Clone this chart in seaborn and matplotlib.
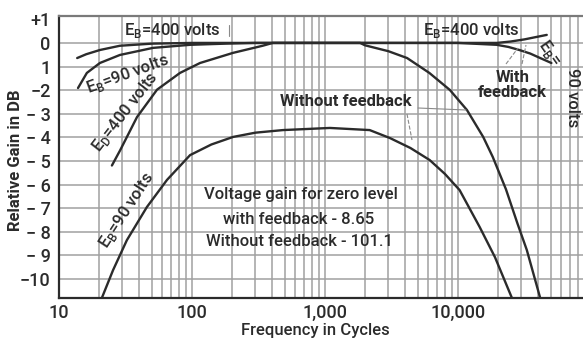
import matplotlib
matplotlib.use("Agg")
import matplotlib.pyplot as plt
from matplotlib.lines import Line2D
from matplotlib.ticker import FixedLocator, NullFormatter
import pandas as pd
import seaborn as sns

# Response curves of the amplifier (frequency in cycles, gain in dB)
fb400_freq = [13.7, 16, 20.3, 28.7, 50, 100, 300, 1000, 10000, 19600, 25000, 31700, 38000, 46600]
fb400_gain = [-0.64, -0.48, -0.3, -0.12, -0.03, 0.0, 0.0, 0.0, 0.0, 0.0, 0.06, 0.15, 0.24, 0.34]

fb90_freq = [13.9, 16.2, 20.3, 28.7, 50.9, 96.7, 180, 300, 600, 10000, 19600, 24000, 29000,
             35000, 41600, 50500]
fb90_gain = [-1.91, -1.27, -0.85, -0.51, -0.21, -0.08, -0.03, 0.0, 0.0, 0.0, -0.08, -0.17, -0.30,
             -0.45, -0.64, -0.85]

nofb400_freq = [25.0, 28.8, 38.6, 54.6, 81.3, 115, 204, 340, 405, 1840, 2000, 3000, 4150, 6100,
                8700, 11700, 15500, 18300, 23000, 28000, 33000, 41600]
nofb400_gain = [-5.19, -4.55, -3.14, -1.98, -1.27, -0.85, -0.42, -0.12, 0.0, 0.0, -0.1, -0.35,
                -0.64, -1.27, -1.99, -2.84, -3.98, -4.83, -6.2, -7.63, -8.77, -10.8]

nofb90_freq = [21.0, 25.5, 32.4, 45.8, 64.9, 96.8, 140, 204, 300, 484, 1090, 2170, 3090, 4400,
               6140, 8000, 10300, 14600, 19000, 25500]
nofb90_gain = [-10.8, -9.62, -8.35, -6.95, -5.8, -4.75, -4.3, -3.98, -3.8, -3.69, -3.6, -3.69,
               -4.03, -4.45, -4.96, -5.55, -6.23, -7.8, -9.07, -10.8]

x_ticks = [10, 100, 1000, 10000]
x_tick_labels = ["10", "100", "1,000", "10,000"]
y_ticks = [1, 0, -1, -2, -3, -4, -5, -6, -7, -8, -9, -10]
y_tick_labels = ["+1", "0", "1", "\u22122", "\u2212 3", "\u2212 4", "\u2212 5", "\u2212 6",
                 "\u2212 7", "\u2212 8", "\u2212 9", "\u221210"]

sns.set_theme(style="white")
plt.rcParams["font.family"] = ["Roboto", "DejaVu Sans"]

W, H = 583, 339
fig = plt.figure(figsize=(W / 100, H / 100), dpi=100)
ax = fig.add_axes([59 / W, 1 - 298 / H, 1 - 59 / W, (298 - 16) / H])

ink = "#2b2b2b"
grid_c = "#a0a0a0"

curves = [
    (fb400_freq, fb400_gain),
    (fb90_freq, fb90_gain),
    (nofb400_freq, nofb400_gain),
    (nofb90_freq, nofb90_gain),
]
for freq, gain in curves:
    df = pd.DataFrame({"freq": freq, "gain": gain})
    sns.lineplot(data=df, x="freq", y="gain", ax=ax, color=ink, linewidth=1.7,
                 sort=False, estimator=None)

ax.set_xscale("log")
ax.set_xlim(10, 87300)
ax.set_ylim(-10.8, 1.14)

# log grid: every 1..9 of each decade
minor = [m * 10 ** d for d in range(1, 5) for m in range(1, 10)]
for xv in minor:
    if 10 < xv < 87300:
        ax.axvline(xv, color=grid_c, lw=1.1, zorder=0)
for yv in range(-10, 1):
    ax.axhline(yv, color=grid_c, lw=1.1, zorder=0)

ax.xaxis.set_major_locator(FixedLocator(x_ticks))
ax.xaxis.set_minor_formatter(NullFormatter())
ax.set_xticks(x_ticks)
ax.set_xticklabels(x_tick_labels)
ax.set_yticks(y_ticks)
ax.set_yticklabels(y_tick_labels)
ax.tick_params(axis="both", length=0, labelsize=13, colors=ink)
ax.tick_params(axis="x", pad=4)
ax.tick_params(axis="y", pad=6)
for lab in ax.get_xticklabels() + ax.get_yticklabels():
    lab.set_fontweight("medium")
ax.grid(False)

for side in ["left", "bottom"]:
    ax.spines[side].set_color(ink)
    ax.spines[side].set_linewidth(1.6)
ax.spines["top"].set_color("#7a7a7a")
ax.spines["top"].set_linewidth(1.6)
ax.spines["right"].set_visible(False)

ax.set_xlabel("")
ax.set_ylabel("")


def P(x, y):
    return (x / W, 1 - y / H)


def label(x, y, s, size=11.5, rot=0, weight="medium", ha="center"):
    fig.text(*P(x, y), s, fontsize=size, rotation=rot, ha=ha, va="center",
             rotation_mode="anchor", color=ink, fontweight=weight)


label(16, 160, "Relative Gain in DB", size=12, rot=90, weight="bold")
label(315, 330, "Frequency in Cycles", size=12)

label(172, 31, "E$_\\mathregular{B}$=400 volts", size=12)
label(471, 31, "E$_\\mathregular{B}$=400 volts", size=12)
label(128, 74, "E$_\\mathregular{B}$=90 volts", size=12, rot=20)
label(125, 112, "E$_\\mathregular{D}$=400 volts", size=12, rot=52)
label(127, 210, "E$_\\mathregular{B}$=90 volts", size=12, rot=57)
label(550, 53, "E$_\\mathregular{B}$=", size=12, rot=-55)
label(572, 98, "90 volts", size=12, rot=-90)

label(513, 77, "With", size=12, weight="bold")
label(512, 92, "feedback", size=12, weight="bold")
label(346, 101, "Without feedback", size=12, weight="bold")

label(301, 195, "Voltage gain for zero level", size=12)
label(299, 220, "with feedback - 8.65", size=12)
label(299, 242, "Without feedback - 101.1", size=12)

# leader lines from the notes to the curves
leaders = [
    ((229, 25), (229, 36), "-"),
    ((418, 108), (466, 110), "-"),
    ((407, 114), (412, 140), "--"),
    ((522, 64), (526, 45), "--"),
    ((506, 64), (518, 48), "--"),
]
for (x0, y0), (x1, y1), ls in leaders:
    fig.add_artist(Line2D([x0 / W, x1 / W], [1 - y0 / H, 1 - y1 / H], color="#8a8a8a",
                          lw=0.8, ls=ls, transform=fig.transFigure))

fig.savefig("out.png", dpi=100, facecolor="white")
